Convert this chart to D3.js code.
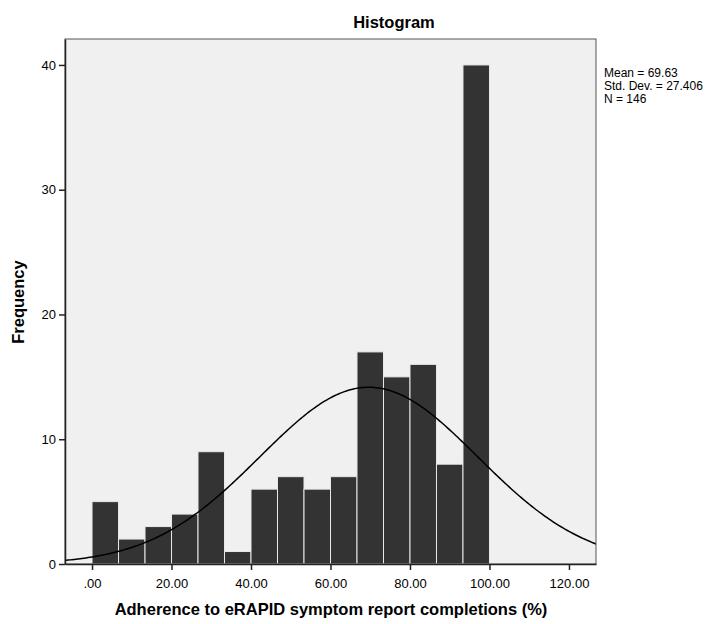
<!DOCTYPE html>
<html>
<head>
<meta charset="utf-8">
<script src="https://cdn.jsdelivr.net/npm/d3@7"></script>
<style>
  body { margin: 0; background: #fff; }
  text { font-family: "Liberation Sans", Arial, sans-serif; fill: #000; }
</style>
</head>
<body>
<svg width="719" height="624"></svg>
<script>
// bins of width 100/15 from 0 to 100
const binCounts = [5, 2, 3, 4, 9, 1, 6, 7, 6, 7, 17, 15, 16, 8, 40];
const xTicks = [0, 20, 40, 60, 80, 100, 120];
const yTicks = [0, 10, 20, 30, 40];
const mean = 69.63, sd = 27.406, n = 146;
const statLines = ['Mean = 69.63', 'Std. Dev. = 27.406', 'N = 146'];

const binWidth = 100 / binCounts.length;
const bins = binCounts.map((c, i) => ({ x0: i * binWidth, x1: (i + 1) * binWidth, count: c }));

const plotL = 65, plotR = 596, plotT = 39, plotB = 564;
const svg = d3.select('svg');

const x = d3.scaleLinear().domain([-6.8, 126.8]).range([plotL, plotR]);
const y = d3.scaleLinear().domain([0, 42.08]).range([plotB, plotT]);

// plot background
svg.append('rect')
    .attr('x', plotL).attr('y', plotT)
    .attr('width', plotR - plotL).attr('height', plotB - plotT)
    .attr('fill', '#f0f0f0');

svg.append('defs').append('clipPath').attr('id', 'clip')
  .append('rect')
    .attr('x', plotL).attr('y', plotT)
    .attr('width', plotR - plotL).attr('height', plotB - plotT);

// bars
svg.append('g')
    .selectAll('rect')
    .data(bins)
    .enter().append('rect')
    .attr('x', d => x(d.x0))
    .attr('y', d => y(d.count))
    .attr('width', d => x(d.x1) - x(d.x0))
    .attr('height', d => y(0) - y(d.count))
    .attr('fill', '#333333')
    .attr('stroke', '#e8e8e8')
    .attr('stroke-width', 1);

// normal curve
const scaleK = n * binWidth / (sd * Math.sqrt(2 * Math.PI));
const curvePts = d3.range(-8, 128.5, 0.5).map(v => [v, scaleK * Math.exp(-0.5 * ((v - mean) / sd) ** 2)]);
svg.append('path')
    .datum(curvePts)
    .attr('clip-path', 'url(#clip)')
    .attr('fill', 'none')
    .attr('stroke', '#000')
    .attr('stroke-width', 1.5)
    .attr('d', d3.line().x(d => x(d[0])).y(d => y(d[1])));

// frame
svg.append('rect')
    .attr('x', plotL).attr('y', plotT)
    .attr('width', plotR - plotL).attr('height', plotB - plotT)
    .attr('fill', 'none')
    .attr('stroke', '#555')
    .attr('stroke-width', 1);

// axes
const xAxis = svg.append('g')
    .attr('transform', `translate(0,${plotB})`)
    .call(d3.axisBottom(x).tickValues(xTicks).tickSize(6).tickSizeOuter(0)
        .tickFormat(d => d === 0 ? '.00' : d.toFixed(2)));
const yAxis = svg.append('g')
    .attr('transform', `translate(${plotL},0)`)
    .call(d3.axisLeft(y).tickValues(yTicks).tickSize(6).tickSizeOuter(0));

[xAxis, yAxis].forEach(g => {
  g.select('.domain').attr('stroke', '#222').attr('stroke-width', 1.5);
  g.selectAll('.tick line').attr('stroke', '#222').attr('stroke-width', 1.5);
  g.selectAll('.tick text').attr('font-size', 13).attr('fill', '#111')
      .style('font-family', '"Liberation Sans", Arial, sans-serif');
});
xAxis.selectAll('.tick text').attr('dy', '1.15em');

// title and labels
svg.append('text')
    .attr('x', 394).attr('y', 28)
    .attr('text-anchor', 'middle')
    .attr('font-size', 16.5).attr('font-weight', 'bold')
    .text('Histogram');

svg.append('text')
    .attr('x', 331).attr('y', 615)
    .attr('text-anchor', 'middle')
    .attr('font-size', 16.5).attr('font-weight', 'bold')
    .text('Adherence to eRAPID symptom report completions (%)');

svg.append('text')
    .attr('transform', 'translate(24,302) rotate(-90)')
    .attr('text-anchor', 'middle')
    .attr('font-size', 16.5).attr('font-weight', 'bold')
    .text('Frequency');

// stats
svg.append('g')
    .selectAll('text')
    .data(statLines)
    .enter().append('text')
    .attr('x', 604)
    .attr('y', (d, i) => 77 + i * 13)
    .attr('font-size', 12)
    .text(d => d);
</script>
</body>
</html>
